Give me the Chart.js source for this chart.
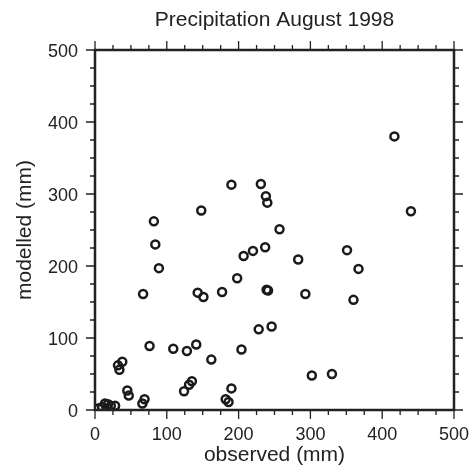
<!DOCTYPE html>
<html>
<head>
<meta charset="utf-8">
<script src="https://cdn.jsdelivr.net/npm/chart.js@4"></script>
<style>
  body { margin: 0; background: #fff; }
  #wrap { width: 474px; height: 468px; }
</style>
</head>
<body>
<div id="wrap"><canvas id="precipChart"></canvas></div>
<script>
// observed vs modelled precipitation (mm)
const observed = [190, 231, 238, 240, 148, 82, 257, 417, 440, 84,
  89, 67, 143, 151, 177, 198, 207, 220, 237, 239,
  241, 76, 109, 128, 141, 162, 204, 228, 246, 32,
  38, 34, 45, 47, 69, 66, 124, 131, 135, 182,
  186, 190, 351, 367, 283, 293, 360, 302, 330, 5,
  10, 14, 18, 22, 28];
const modelled = [313, 314, 297, 288, 277, 262, 251, 380, 276, 230,
  197, 161, 163, 157, 164, 183, 214, 221, 226, 167,
  166, 89, 85, 82, 91, 70, 84, 112, 116, 62,
  67, 56, 27, 20, 15, 9, 26, 35, 40, 15,
  11, 30, 222, 196, 209, 161, 153, 48, 50, 2,
  4, 9, 8, 6, 6];
const axisTicks = [0, 100, 200, 300, 400, 500];
const chartTitle = 'Precipitation August 1998';

const ink = '#222';
const fontFamily = '"Liberation Sans", Arial, sans-serif';
Chart.defaults.font.family = fontFamily;
Chart.defaults.color = ink;

// frame, ticks on all four sides and the title centred over the plot
const framePlugin = {
  id: 'frame',
  afterDraw(chart) {
    const ctx = chart.ctx;
    const { left, right, top, bottom } = chart.chartArea;
    const xs = chart.scales.x, ys = chart.scales.y;
    ctx.save();
    ctx.strokeStyle = ink;
    ctx.lineWidth = 1.3;
    ctx.beginPath();
    for (let v = axisTicks[0]; v <= axisTicks[axisTicks.length - 1]; v += 25) {
      const len = v % 100 === 0 ? 9 : 5;
      const px = xs.getPixelForValue(v);
      ctx.moveTo(px, bottom); ctx.lineTo(px, bottom + len);
      ctx.moveTo(px, top); ctx.lineTo(px, top - len);
      const py = ys.getPixelForValue(v);
      ctx.moveTo(left, py); ctx.lineTo(left - len, py);
      ctx.moveTo(right, py); ctx.lineTo(right + len, py);
    }
    ctx.stroke();
    ctx.lineWidth = 2.5;
    ctx.strokeRect(left, top, right - left, bottom - top);

    ctx.fillStyle = ink;
    ctx.font = '21px ' + fontFamily;
    ctx.textAlign = 'center';
    ctx.textBaseline = 'alphabetic';
    ctx.fillText(chartTitle, (left + right) / 2, 26);
    ctx.restore();
  }
};

new Chart(document.getElementById('precipChart'), {
  type: 'scatter',
  data: {
    datasets: [{
      data: observed.map((x, i) => ({ x: x, y: modelled[i] })),
      pointRadius: 4,
      pointBorderWidth: 2.5,
      borderColor: '#1a1a1a',
      backgroundColor: 'rgba(0,0,0,0)'
    }]
  },
  options: {
    responsive: true,
    maintainAspectRatio: false,
    animation: false,
    layout: { padding: { top: 50, right: 20, left: 0, bottom: 0 } },
    plugins: {
      legend: { display: false },
      tooltip: { enabled: false },
      title: { display: false }
    },
    scales: {
      x: {
        type: 'linear',
        min: 0,
        max: 500,
        afterBuildTicks: s => { s.ticks = axisTicks.map(v => ({ value: v })); },
        afterFit: s => { s.height = 58; s.paddingLeft = 0; s.paddingRight = 0; },
        grid: { display: false, drawTicks: false },
        border: { display: false },
        ticks: { font: { size: 18 }, color: ink, padding: 14, maxRotation: 0 },
        title: {
          display: true,
          text: 'observed (mm)',
          color: ink,
          font: { size: 21 },
          padding: { top: 0, bottom: 0 }
        }
      },
      y: {
        type: 'linear',
        min: 0,
        max: 500,
        afterBuildTicks: s => { s.ticks = axisTicks.map(v => ({ value: v })); },
        afterFit: s => { s.width = 95; s.paddingTop = 0; s.paddingBottom = 0; },
        grid: { display: false, drawTicks: false },
        border: { display: false },
        ticks: { font: { size: 18 }, color: ink, padding: 17, labelOffset: 2 },
        title: {
          display: true,
          text: 'modelled (mm)',
          color: ink,
          font: { size: 21 },
          padding: { top: 13, bottom: 0 }
        }
      }
    }
  },
  plugins: [framePlugin]
});
</script>
</body>
</html>
